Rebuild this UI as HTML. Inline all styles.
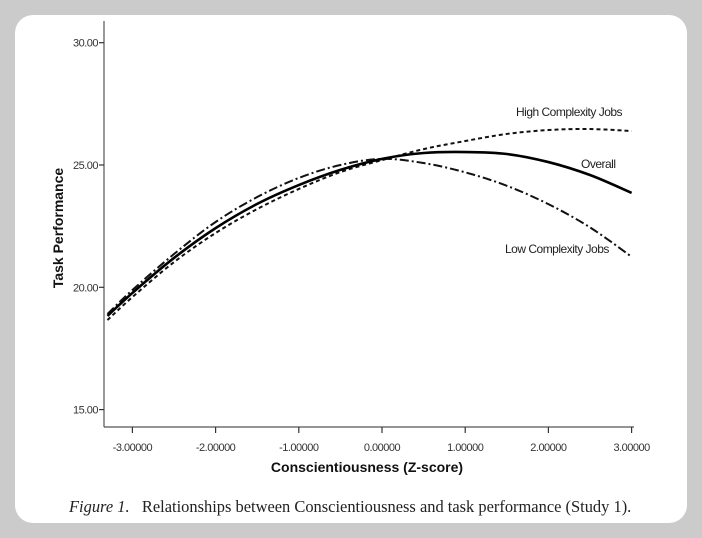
<!DOCTYPE html>
<html><head><meta charset="utf-8">
<style>
html,body{margin:0;padding:0;background:#cbcbcb;}
body{width:702px;height:538px;position:relative;overflow:hidden;font-family:"Liberation Sans",sans-serif;}
#panel{position:absolute;left:15px;top:15px;width:672px;height:508px;background:#fff;border-radius:18px;}
svg{position:absolute;left:0;top:0;}
#caption{position:absolute;left:69px;top:497px;font-family:"Liberation Serif",serif;font-size:16.45px;color:#222;white-space:nowrap;}
</style></head>
<body>
<div id="panel"></div>
<svg id="chart" width="702" height="538"></svg>
<div id="caption"><i>Figure 1.</i>&nbsp;&nbsp;&nbsp;Relationships between Conscientiousness and task performance (Study 1).</div>
<script>
const xVals=[-3.3,-3,-2.5,-2,-1.5,-1,-0.5,0,0.5,1,1.5,2,2.5,3];
const overall=[18.83,19.77,21.20,22.42,23.41,24.18,24.80,25.25,25.49,25.53,25.45,25.12,24.59,23.86];
const highComplexity=[18.66,19.60,21.03,22.22,23.20,24.02,24.71,25.20,25.65,25.98,26.27,26.43,26.47,26.39];
const lowComplexity=[18.91,19.89,21.36,22.67,23.69,24.47,25.0,25.25,25.08,24.7,24.15,23.4,22.45,21.25];
const xTicks=[-3,-2,-1,0,1,2,3];
const xTickLabels=["-3.00000","-2.00000","-1.00000","0.00000","1.00000","2.00000","3.00000"];
const yTicks=[15,20,25,30];
const yTickLabels=["15.00","20.00","25.00","30.00"];

const NS="http://www.w3.org/2000/svg";
const svg=document.getElementById('chart');
const X=v=>382+v*83.2;
const Y=v=>165-(v-25)*24.46;
function mk(t,a,txt){const e=document.createElementNS(NS,t);for(const k in a)e.setAttribute(k,a[k]);if(txt!==undefined)e.textContent=txt;svg.appendChild(e);return e;}

let e;
e=mk('line',{x1:104,y1:21,x2:104,y2:427,stroke:'#555','stroke-width':1.2});


e=mk('line',{x1:104,y1:427,x2:634,y2:427,stroke:'#555','stroke-width':1.2});



yTicks.forEach((v,i)=>{
  const t=mk('line',{x1:99,y1:Y(v),x2:104,y2:Y(v),stroke:'#333','stroke-width':1.2});
  
  
  const l=mk('text',{x:98,y:Y(v)+4,'text-anchor':'end','font-size':11,fill:'#333','letter-spacing':'-0.5'},yTickLabels[i]);
  
  
});
xTicks.forEach((v,i)=>{
  const t=mk('line',{x1:X(v),y1:427,x2:X(v),y2:433,stroke:'#333','stroke-width':1.2});
  
  
  const l=mk('text',{x:X(v),y:451,'text-anchor':'middle','font-size':11,fill:'#333','letter-spacing':'-0.5'},xTickLabels[i]);
  
  
});

function path(arr){
  const p=xVals.map((x,i)=>[X(x),Y(arr[i])]);
  let d='M'+p[0][0]+','+p[0][1];
  for(let i=0;i<p.length-1;i++){
    const p0=p[Math.max(i-1,0)],p1=p[i],p2=p[i+1],p3=p[Math.min(i+2,p.length-1)];
    const c1x=p1[0]+(p2[0]-p0[0])/6,c1y=p1[1]+(p2[1]-p0[1])/6;
    const c2x=p2[0]-(p3[0]-p1[0])/6,c2y=p2[1]-(p3[1]-p1[1])/6;
    d+=` C${c1x},${c1y} ${c2x},${c2y} ${p2[0]},${p2[1]}`;
  }
  return d;
}
e=mk('path',{d:path(highComplexity),fill:'none',stroke:'#111','stroke-width':2,'stroke-dasharray':'4,3'});


e=mk('path',{d:path(lowComplexity),fill:'none',stroke:'#111','stroke-width':2,'stroke-dasharray':'9,3,2,3'});


e=mk('path',{d:path(overall),fill:'none',stroke:'#000','stroke-width':2.6});



e=mk('text',{x:516,y:116,'font-size':12,fill:'#222','letter-spacing':'-0.5'},'High Complexity Jobs');


e=mk('text',{x:581,y:168,'font-size':12,fill:'#222','letter-spacing':'-0.5'},'Overall');


e=mk('text',{x:505,y:253,'font-size':12,fill:'#222','letter-spacing':'-0.5'},'Low Complexity Jobs');



e=mk('text',{x:367,y:472,'text-anchor':'middle','font-size':14,'font-weight':'bold',fill:'#111'},'Conscientiousness (Z-score)');


e=mk('text',{x:0,y:0,'text-anchor':'middle','font-size':14,'font-weight':'bold',fill:'#111',transform:'translate(63,228) rotate(-90)'},'Task Performance');


</script>
</body></html>
